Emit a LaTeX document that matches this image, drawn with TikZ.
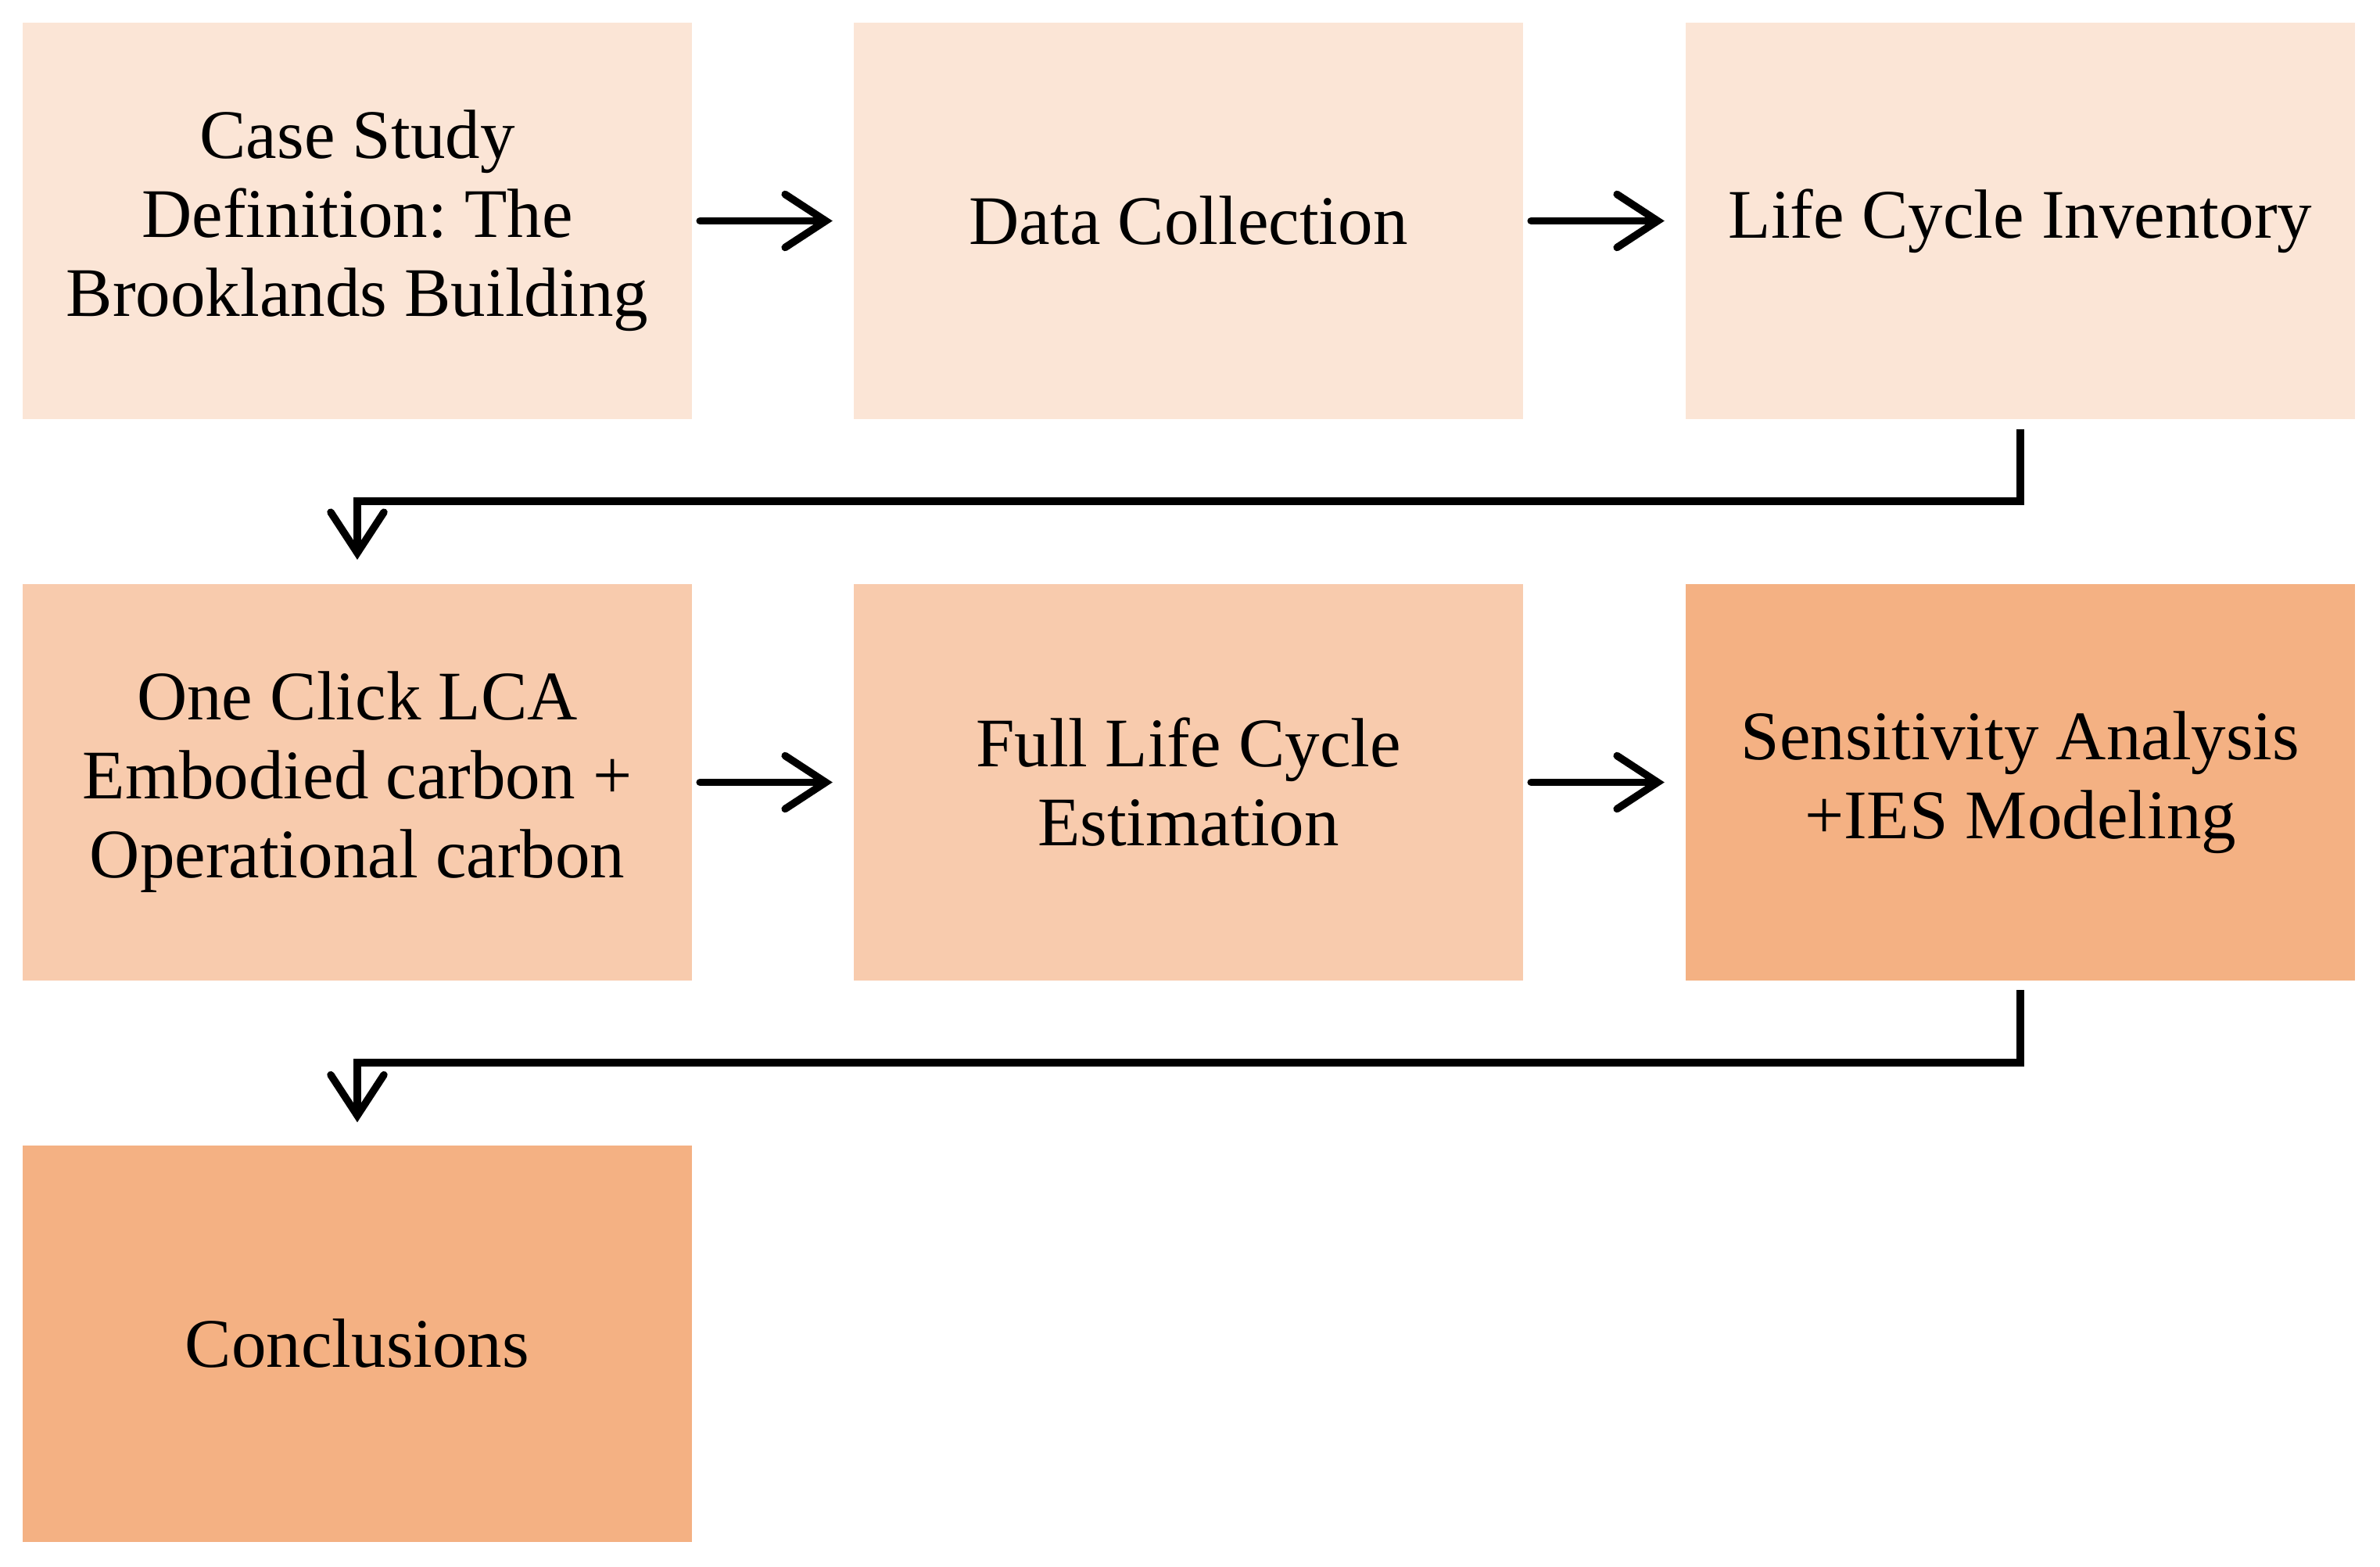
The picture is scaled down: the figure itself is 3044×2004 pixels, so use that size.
\documentclass[tikz,border=0pt]{standalone}
\usepackage{fontspec}
\setmainfont{Liberation Serif}
\frenchspacing
\usetikzlibrary{arrows.meta}
\definecolor{pale}{HTML}{FBE5D6}
\definecolor{mid}{HTML}{F8CBAD}
\definecolor{deep}{HTML}{F4B183}
\begin{document}
\begin{tikzpicture}[x=1pt,y=1pt,
  box/.style={draw=none,minimum width=856pt,minimum height=507pt,inner sep=0pt,
    align=center,font=\fontsize{89}{101}\selectfont\frenchspacing,text=black},
  arr/.style={line width=9.5pt,line cap=round,line join=miter,
    -{Straight Barb[length=52pt,width=68pt,line cap=round]}}]
\useasboundingbox (0,0) rectangle (3044,-2004);
\node[box,fill=pale] (b1) at (457,-282.5) {Case Study\\Definition: The\\Brooklands Building};
\node[box,fill=pale] (b2) at (1520,-282.5) {Data Collection};
\node[box,fill=pale] (b3) at (2584,-282.5) {Life Cycle Inventory};
\node[box,fill=mid] (b4) at (457,-1000.5) {One Click LCA\\Embodied carbon +\\Operational carbon};
\node[box,fill=mid] (b5) at (1520,-1000.5) {Full Life Cycle\\Estimation};
\node[box,fill=deep] (b6) at (2584,-1000.5) {Sensitivity Analysis\\+IES Modeling};
\node[box,fill=deep] (b7) at (457,-1718) {Conclusions};
\draw[arr,shorten <=10pt,shorten >=27pt] (b1.east) -- (b2.west);
\draw[arr,shorten <=10pt,shorten >=27pt] (b2.east) -- (b3.west);
\draw[arr,shorten <=10pt,shorten >=27pt] (b4.east) -- (b5.west);
\draw[arr,shorten <=10pt,shorten >=27pt] (b5.east) -- (b6.west);
\draw[arr,line cap=butt,shorten >=31pt] ([yshift=-13pt]b3.south) -- ++(0,-92) -| (b4.north);
\draw[arr,line cap=butt,shorten >=29pt] ([yshift=-12pt]b6.south) -- ++(0,-93) -| (b7.north);
\end{tikzpicture}
\end{document}
